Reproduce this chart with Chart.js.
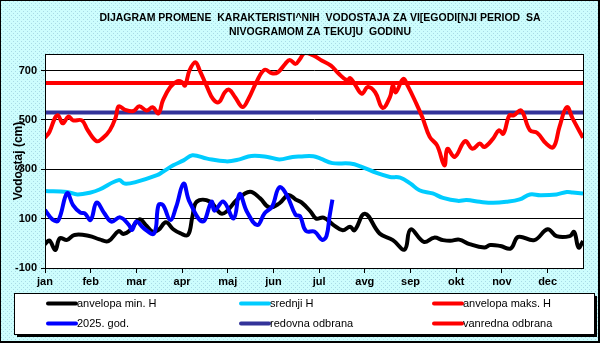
<!DOCTYPE html>
<html>
<head>
<meta charset="utf-8">
<script src="https://cdn.jsdelivr.net/npm/chart.js@4/dist/chart.umd.min.js"></script>
<style>
  html, body { margin: 0; padding: 0; background: #fff; }
  #wrap { width: 600px; height: 343px; position: relative; }
</style>
</head>
<body>
<div id="wrap"><canvas id="chart" width="600" height="343"></canvas></div>
<script>
// Title and labels
const titleLines = [
    "DIJAGRAM PROMENE  KARAKTERISTI^NIH  VODOSTAJA ZA VI[EGODI[NJI PERIOD  SA",
    "NIVOGRAMOM ZA TEKU]U  GODINU"
];
const yTitle = "Vodostaj (cm)";
const monthLabels = ["jan", "feb", "mar", "apr", "maj", "jun", "jul", "avg", "sep", "okt", "nov", "dec"];
const monthTicks = [0, 31, 62, 93, 124, 155, 186, 217, 248, 279, 310, 341];
const yTicks = [-100, 100, 300, 500, 700];

// anvelopa min. H (day of year, cm)
const minDays = [0, 3, 7, 10, 15, 20, 30, 37, 43, 50, 53, 58, 64, 69, 73, 77, 82, 87, 92, 97, 100, 103, 112, 119, 123, 130, 139, 146, 152, 159, 165, 170, 174, 180, 184, 189, 196, 202, 207, 210, 217, 227, 236, 244, 248, 257, 264, 270, 275, 281, 288, 298, 302, 309, 316, 321, 332, 341, 347, 356, 359, 362, 365];
const minValues = [-3, 11, -27, 20, 14, 34, 30, 16, 9, 50, 38, 54, 97, 70, 47, 54, 85, 57, 40, 34, 108, 169, 169, 122, 128, 175, 209, 182, 146, 162, 196, 178, 166, 130, 100, 104, 73, 53, 67, 53, 120, 40, 13, -25, 56, 6, 23, 13, 10, 15, -3, -17, -7, -11, -21, 26, 13, 57, 29, 29, 46, -17, 9];

// srednji H
const meanDays = [0, 15, 22, 31, 37, 50, 54, 62, 76, 80, 87, 94, 100, 110, 123, 132, 140, 151, 159, 168, 173, 182, 187, 195, 207, 214, 225, 234, 241, 248, 254, 263, 270, 280, 286, 295, 304, 313, 322, 329, 336, 347, 354, 358, 365];
const meanValues = [212, 208, 198, 206, 218, 256, 242, 249, 276, 290, 316, 336, 357, 343, 332, 340, 354, 350, 340, 350, 352, 353, 343, 325, 323, 312, 285, 269, 266, 242, 215, 202, 184, 172, 175, 168, 164, 168, 178, 198, 195, 198, 208, 206, 202];

// anvelopa maks. H
const maxDays = [0, 3, 7, 9, 12, 16, 19, 25, 29, 35, 39, 44, 48, 50, 54, 60, 64, 69, 73, 77, 80, 85, 90, 93, 95, 98, 102, 105, 110, 114, 118, 122, 125, 129, 134, 138, 144, 149, 154, 158, 163, 166, 170, 173, 176, 182, 188, 194, 199, 205, 207, 210, 215, 219, 224, 229, 234, 236, 238, 243, 246, 252, 256, 261, 266, 271, 273, 278, 285, 290, 295, 298, 304, 308, 311, 315, 318, 323, 329, 334, 340, 345, 349, 354, 358, 365];
const maxValues = [428, 451, 511, 518, 486, 514, 498, 498, 458, 414, 425, 458, 511, 555, 542, 536, 555, 538, 551, 527, 579, 633, 657, 653, 639, 700, 734, 700, 633, 585, 572, 612, 622, 592, 552, 585, 660, 703, 689, 693, 727, 743, 727, 747, 770, 761, 740, 720, 689, 660, 670, 646, 606, 633, 612, 549, 592, 639, 612, 666, 639, 565, 511, 431, 397, 316, 383, 350, 414, 383, 404, 390, 424, 458, 444, 518, 518, 538, 458, 447, 404, 390, 471, 552, 505, 428];

// 2025. god.
const curDays = [0, 5, 9, 15, 19, 24, 27, 31, 35, 40, 45, 51, 57, 59, 62, 67, 74, 77, 80, 85, 89, 94, 98, 107, 113, 115, 121, 128, 132, 137, 144, 149, 154, 159, 164, 170, 173, 177, 183, 188, 191, 193, 195];
const curValues = [135, 97, 92, 203, 155, 124, 121, 95, 165, 124, 88, 105, 74, 54, 88, 61, 40, 155, 155, 95, 148, 242, 169, 88, 169, 132, 169, 101, 200, 128, 74, 122, 148, 227, 196, 115, 110, 50, 47, 14, 30, 107, 177];

// odbrana od poplava (cm)
const redovnaLevel = 530;
const vanrednaLevel = 650;
const yearSpan = [0, 365];

function toPoints(days, values) {
    return days.map((d, i) => ({ x: d, y: values[i] }));
}

const legendItems = [
    { label: "anvelopa min. H", color: "#000000" },
    { label: "srednji H", color: "#00ccff" },
    { label: "anvelopa maks. H", color: "#ff0000" },
    { label: "2025. god.", color: "#0000ff" },
    { label: "redovna odbrana", color: "#333399" },
    { label: "vanredna odbrana", color: "#ff0000" }
];

// background with a light dotted texture
function makePattern(ctx) {
    const c = document.createElement("canvas");
    c.width = 4; c.height = 4;
    const p = c.getContext("2d");
    p.fillStyle = "#cdfdfd";
    p.fillRect(0, 0, 4, 4);
    p.fillStyle = "#a9dbe6";
    p.fillRect(1, 1, 1, 1);
    p.fillRect(3, 3, 1, 1);
    return ctx.createPattern(c, "repeat");
}

const framePlugin = {
    id: "frame",
    beforeDraw(chart) {
        const { ctx, chartArea: a } = chart;
        ctx.save();
        ctx.fillStyle = makePattern(ctx);
        ctx.fillRect(0, 0, chart.width, chart.height);
        ctx.fillStyle = "#ffffff";
        ctx.fillRect(a.left, a.top, a.right - a.left, a.bottom - a.top);
        ctx.restore();
    },
    afterDraw(chart) {
        const { ctx, chartArea: a } = chart;
        ctx.save();
        // plot frame
        ctx.strokeStyle = "#000";
        ctx.lineWidth = 1;
        ctx.strokeRect(Math.round(a.left) + 0.5, Math.round(a.top) + 0.5,
            Math.round(a.right - a.left), Math.round(a.bottom - a.top));

        // title
        ctx.fillStyle = "#000";
        ctx.font = "bold 10.5px 'Liberation Sans', Arial, sans-serif";
        ctx.textAlign = "center";
        ctx.textBaseline = "middle";
        ctx.fillText(titleLines[0], 320, 18);
        ctx.fillText(titleLines[1], 320, 32.5);

        // legend box with shadow
        const bx = 14, by = 293, bw = 580, bh = 41;
        ctx.fillStyle = "#000";
        ctx.fillRect(bx + 3, by + 3, bw, bh);
        ctx.fillStyle = "#fff";
        ctx.fillRect(bx, by, bw, bh);
        ctx.strokeStyle = "#000";
        ctx.strokeRect(bx + 0.5, by + 0.5, bw, bh);

        const colX = [48, 241, 434];
        const rowY = [303.5, 323.5];
        ctx.font = "11px 'Liberation Sans', Arial, sans-serif";
        ctx.textAlign = "left";
        legendItems.forEach((item, i) => {
            const x = colX[i % 3], y = rowY[Math.floor(i / 3)];
            ctx.strokeStyle = item.color;
            ctx.lineWidth = 4;
            ctx.lineCap = "round";
            ctx.beginPath();
            ctx.moveTo(x, y);
            ctx.lineTo(x + 28, y);
            ctx.stroke();
            ctx.fillStyle = "#000";
            ctx.fillText(item.label, x + 29, y);
        });

        // outer frame
        ctx.lineWidth = 1;
        ctx.strokeStyle = "#000";
        ctx.strokeRect(0.5, 0.5, chart.width - 1, chart.height - 1);
        ctx.fillStyle = "#000";
        ctx.fillRect(chart.width - 2, 0, 2, chart.height);
        ctx.fillRect(0, chart.height - 2, chart.width, 2);
        ctx.restore();
    }
};

function lineSet(label, points, color, order) {
    return {
        label: label,
        data: points,
        borderColor: color,
        backgroundColor: color,
        borderWidth: 4,
        pointRadius: 0,
        tension: 0.4,
        fill: false,
        order: order
    };
}

new Chart(document.getElementById("chart"), {
    type: "line",
    data: {
        datasets: [
            lineSet("2025. god.", toPoints(curDays, curValues), "#0000ff", 0),
            lineSet("anvelopa min. H", toPoints(minDays, minValues), "#000000", 1),
            lineSet("anvelopa maks. H", toPoints(maxDays, maxValues), "#ff0000", 2),
            lineSet("srednji H", toPoints(meanDays, meanValues), "#00ccff", 3),
            lineSet("redovna odbrana", yearSpan.map(d => ({ x: d, y: redovnaLevel })), "#333399", 4),
            lineSet("vanredna odbrana", yearSpan.map(d => ({ x: d, y: vanrednaLevel })), "#ff0000", 5)
        ]
    },
    options: {
        responsive: false,
        animation: false,
        layout: { padding: { top: 54, left: 0, right: 17, bottom: 55 } },
        plugins: {
            legend: { display: false },
            title: { display: false },
            tooltip: { enabled: false }
        },
        scales: {
            x: {
                type: "linear",
                min: 0,
                max: 365,
                afterFit: s => { s.height = 20; },
                afterBuildTicks: s => { s.ticks = monthTicks.map(v => ({ value: v })); },
                grid: { drawOnChartArea: false, drawTicks: true, tickLength: 5, color: "#000" },
                border: { display: true, color: "#000", width: 1 },
                ticks: {
                    autoSkip: false,
                    maxRotation: 0,
                    padding: 2,
                    color: "#000",
                    font: { family: "'Liberation Sans', Arial, sans-serif", size: 11, weight: "bold" },
                    callback: (v, i) => monthLabels[i]
                }
            },
            y: {
                min: -100,
                max: 767,
                afterFit: s => { s.width = 45; },
                afterBuildTicks: s => { s.ticks = yTicks.map(v => ({ value: v })); },
                grid: { color: "#000", lineWidth: 1, tickLength: 4 },
                border: { display: true, color: "#000", width: 1 },
                ticks: {
                    padding: 4,
                    color: "#000",
                    font: { family: "'Liberation Sans', Arial, sans-serif", size: 11, weight: "bold" }
                },
                title: {
                    display: true,
                    text: yTitle,
                    color: "#000",
                    padding: { top: 11, bottom: 0 },
                    font: { family: "'Liberation Sans', Arial, sans-serif", size: 12, weight: "bold" }
                }
            }
        }
    },
    plugins: [framePlugin]
});
</script>
</body>
</html>
